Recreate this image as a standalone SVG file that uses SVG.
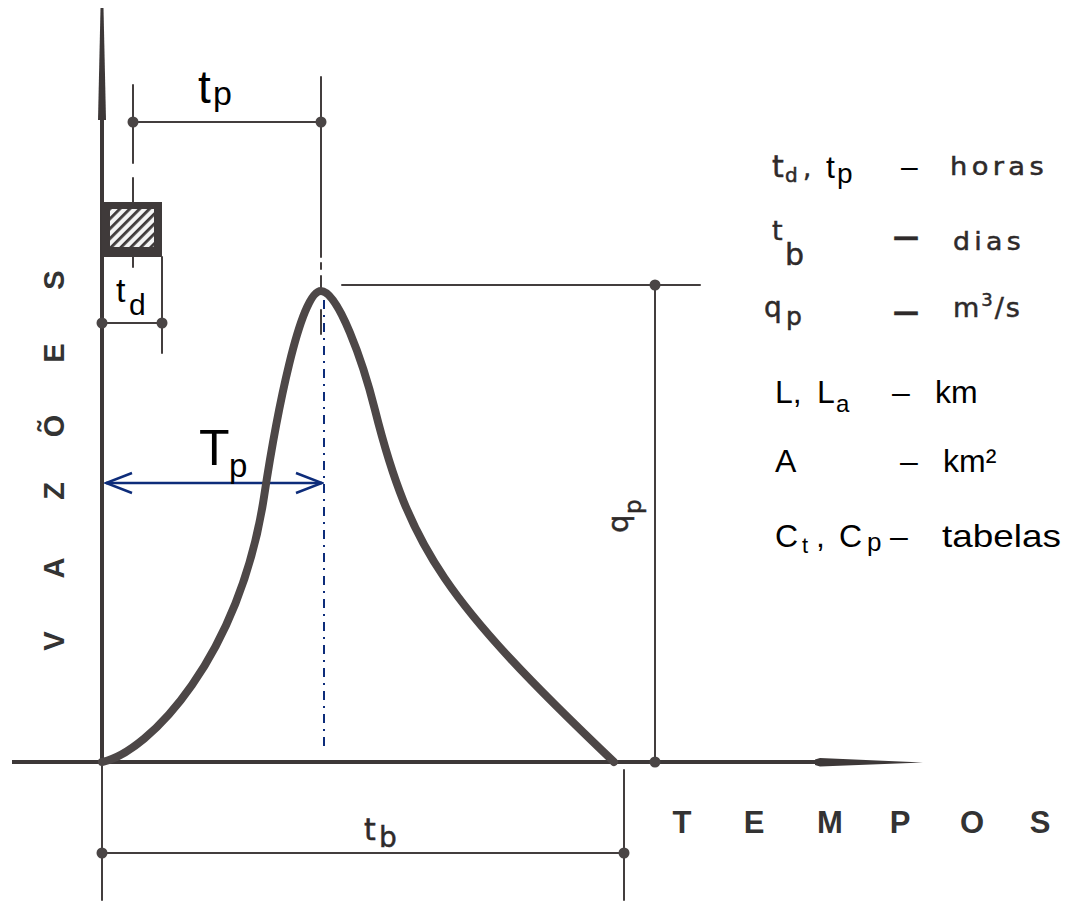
<svg xmlns="http://www.w3.org/2000/svg" width="1066" height="907" viewBox="0 0 1066 907">
<style>
.ln{stroke:#433e3e;stroke-width:2;fill:none;stroke-linecap:round}
.ax{stroke:#3d3838;stroke-width:4;fill:none}
.dot{fill:#4a4545}
.old{font-family:"DejaVu Sans",sans-serif;fill:#2e2a2a;stroke:#2e2a2a;stroke-width:0.5}
.ar{font-family:"Liberation Sans",Arial,sans-serif;fill:#000}
.cap{font-family:"Liberation Sans",Arial,sans-serif;font-weight:bold;fill:#333;text-anchor:middle}
.blue{stroke:#0d2c7a;fill:none}
</style>
<defs>
<pattern id="hatch" patternUnits="userSpaceOnUse" width="7" height="7" patternTransform="rotate(45)">
<rect width="7" height="7" fill="#f4f4f4"/>
<rect x="0" y="0" width="2.8" height="7" fill="#3f3a3a"/>
</pattern>
<marker id="openArrow" viewBox="0 0 30 24" markerUnits="userSpaceOnUse" markerWidth="30" markerHeight="24" refX="28" refY="12" orient="auto-start-reverse">
<path d="M2,2 L28,12 L2,22" fill="none" stroke="#0d2c7a" stroke-width="2.5"/>
</marker>
</defs>

<g id="axes">
<polygon points="100.5,8 103.5,8 106,120 98,120" fill="#3d3838"/>
<line class="ax" x1="102" y1="118" x2="102" y2="762" stroke-width="3.5"/>
<line class="ln" x1="102" y1="762" x2="102" y2="900"/>
<line class="ax" x1="12" y1="762" x2="820" y2="762"/>
<polygon points="815,759.5 820,758 923,762.5 820,766.5 815,765" fill="#3d3838"/>
</g>

<g id="rainfall">
<rect x="102" y="202" width="60" height="55" fill="#3f3a3a"/>
<rect x="110" y="209" width="44" height="38" fill="url(#hatch)"/>
</g>

<g id="connectors">
<line class="ln" x1="133" y1="85" x2="133" y2="163"/>
<line class="ln" x1="133" y1="178" x2="133" y2="202"/>
<line class="ln" x1="133" y1="257" x2="133" y2="267"/>
<line class="ln" x1="133" y1="122" x2="321" y2="122"/>
<line class="ln" x1="321" y1="77" x2="321" y2="257"/>
<line class="ln" x1="321" y1="263" x2="321" y2="269"/>
<line class="ln" x1="321" y1="276" x2="321" y2="290"/>
<line class="ln" x1="321" y1="310" x2="321" y2="334"/>
<line class="ln" x1="162" y1="257" x2="162" y2="353"/>
<line class="ln" x1="102" y1="323" x2="162" y2="323"/>
<line class="ln" x1="342" y1="285" x2="700" y2="285"/>
<line class="ln" x1="655" y1="285" x2="655" y2="762"/>
<line class="ln" x1="102" y1="853" x2="624" y2="853"/>
<line class="ln" x1="624" y1="770" x2="624" y2="900"/>
<line class="blue" x1="324" y1="300" x2="324" y2="750" stroke-width="2" stroke-dasharray="9 6 2 6"/>
<line class="blue" x1="106" y1="483" x2="322" y2="483" stroke-width="2.5" marker-start="url(#openArrow)" marker-end="url(#openArrow)"/>
</g>

<g id="hydrograph">
<path d="M102,762 C150,752 240,655 264,497 C276,418 300,291 321,291 C338,291 363,362 375,410 C410,549 446,602 614,762" fill="none" stroke="#4d4747" stroke-width="8" stroke-linecap="round" stroke-linejoin="round"/>
</g>

<g id="dots">
<circle class="dot" cx="133" cy="122" r="5.5"/>
<circle class="dot" cx="321" cy="122" r="5.5"/>
<circle class="dot" cx="102" cy="323" r="5.5"/>
<circle class="dot" cx="162" cy="323" r="5.5"/>
<circle class="dot" cx="655" cy="285" r="5.5"/>
<circle class="dot" cx="655" cy="762" r="5.5"/>
<circle class="dot" cx="102" cy="853" r="5.5"/>
<circle class="dot" cx="624" cy="853" r="5.5"/>
</g>

<g id="labels">
<text class="ar" x="198" y="103" font-size="46">t</text>
<text class="ar" x="213" y="105" font-size="34">p</text>
<text class="ar" x="199" y="465" font-size="50">T</text>
<text class="ar" x="229" y="477" font-size="33">p</text>
<text class="ar" x="116" y="302" font-size="34">t</text>
<text class="ar" x="129" y="315" font-size="30">d</text>
<text class="old" x="364" y="840" font-size="30">t</text>
<text class="old" x="379" y="847" font-size="28">b</text>
<text class="old" transform="translate(628,533) rotate(-90)" font-size="29">q</text>
<text class="old" transform="translate(641,514) rotate(-90)" font-size="23">p</text>
</g>

<g id="axis-titles">
<text class="cap" font-size="29" transform="translate(64,641) rotate(-90)">V</text>
<text class="cap" font-size="29" transform="translate(64,568) rotate(-90)">A</text>
<text class="cap" font-size="29" transform="translate(64,491) rotate(-90)">Z</text>
<text class="cap" font-size="29" transform="translate(64,426) rotate(-90)">Õ</text>
<text class="cap" font-size="29" transform="translate(64,353) rotate(-90)">E</text>
<text class="cap" font-size="29" transform="translate(64,280) rotate(-90)">S</text>
<text class="cap" font-size="31" x="682" y="833">T</text>
<text class="cap" font-size="31" x="754" y="833">E</text>
<text class="cap" font-size="31" x="830" y="833">M</text>
<text class="cap" font-size="31" x="900" y="833">P</text>
<text class="cap" font-size="31" x="972" y="833">O</text>
<text class="cap" font-size="31" x="1040" y="833">S</text>
</g>

<g id="legend">
<text class="old" x="772" y="177" font-size="30">t</text>
<text class="old" x="785" y="182" font-size="20">d</text>
<text class="old" x="803" y="177" font-size="26">,</text>
<text class="ar" x="826" y="178" font-size="32">t</text>
<text class="ar" x="837" y="183" font-size="28">p</text>
<text class="ar" x="901" y="177" font-size="30">–</text>
<text class="old" x="950" y="175" font-size="25" letter-spacing="4" textLength="98" lengthAdjust="spacingAndGlyphs">horas</text>

<text class="old" x="772" y="240" font-size="27">t</text>
<text class="old" x="785" y="265" font-size="30">b</text>
<text class="old" x="893" y="246" font-size="26" font-weight="bold">—</text>
<text class="old" x="953" y="250" font-size="25" letter-spacing="4" textLength="72" lengthAdjust="spacingAndGlyphs">dias</text>

<text class="old" x="764" y="317" font-size="28">q</text>
<text class="old" x="786" y="325" font-size="25">p</text>
<text class="old" x="893" y="321" font-size="26" font-weight="bold">—</text>
<text class="old" x="953" y="317" font-size="27" letter-spacing="2">m<tspan dy="-11" font-size="18">3</tspan><tspan dy="11">/s</tspan></text>

<text class="ar" x="775" y="403" font-size="32">L,</text>
<text class="ar" x="817" y="403" font-size="32">L</text>
<text class="ar" x="836" y="412" font-size="24">a</text>
<text class="ar" x="892" y="403" font-size="32">–</text>
<text class="ar" x="935" y="403" font-size="32">km</text>

<text class="ar" x="775" y="472" font-size="32">A</text>
<text class="ar" x="900" y="472" font-size="32">–</text>
<text class="ar" x="943" y="472" font-size="32">km²</text>

<text class="ar" x="775" y="547" font-size="32">C</text>
<text class="ar" x="802" y="553" font-size="22">t</text>
<text class="ar" x="816" y="547" font-size="32">,</text>
<text class="ar" x="839" y="547" font-size="32">C</text>
<text class="ar" x="867" y="551" font-size="26">p</text>
<text class="ar" x="890" y="547" font-size="32">–</text>
<text class="ar" x="942" y="547" font-size="32" textLength="119" lengthAdjust="spacingAndGlyphs">tabelas</text>
</g>
</svg>
